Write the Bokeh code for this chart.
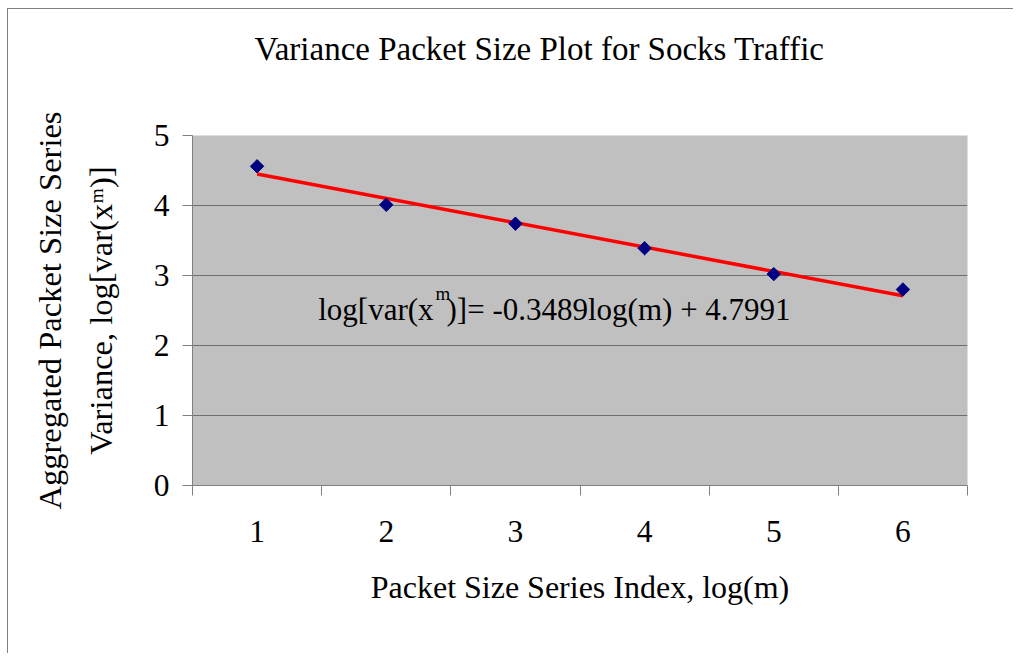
from math import pi
from bokeh.plotting import figure
from bokeh.models import Label, FixedTicker, Range1d, Title
from bokeh.embed import file_html
from bokeh.resources import INLINE

# ---- data ----
x_index = [1, 2, 3, 4, 5, 6]
log_var = [4.56, 4.01, 3.74, 3.39, 3.02, 2.80]
trend_x = [1, 6]
trend_y = [4.45, 2.71]
x_tick_labels = ["1", "2", "3", "4", "5", "6"]
x_boundaries = [0.5, 1.5, 2.5, 3.5, 4.5, 5.5, 6.5]
y_ticks = [0, 1, 2, 3, 4, 5]

title_text = "Variance Packet Size Plot for Socks Traffic"
x_label_text = "Packet Size Series Index, log(m)"
y_label_line1 = "Aggregated Packet Size Series"
y_label_line2 = "Variance, log[var(x\u1d50)]"
eq_part1 = "log[var(x"
eq_sup = "m"
eq_part2 = ")]= -0.3489log(m) + 4.7991"

FONT = "Liberation Serif"
AXIS_GRAY = "#808080"

p = figure(
    title=None,
    width=1013, height=653,
    output_backend="svg", toolbar_location=None,
    x_range=Range1d(0.5, 6.5), y_range=Range1d(0, 5),
    min_border_left=192, min_border_right=46,
    min_border_top=135, min_border_bottom=168,
    background_fill_color="#C0C0C0", border_fill_color=None,
    outline_line_color=None,
    styles={"background-color": "white",
            "box-shadow": "inset 7px 8px 0 0 white, inset 8px 9px 0 0 #808080"},
)

# title: an empty spacer next to the frame, then the real title further out
p.add_layout(Title(text=" ", standoff=56, text_font=FONT, text_font_size="10px"), "above")
p.add_layout(Title(text=title_text, align="left", offset=62, standoff=0,
                   text_font=FONT, text_font_size="33px", text_font_style="normal",
                   text_color="black"), "above")

# grid
p.xgrid.visible = False
p.ygrid.ticker = FixedTicker(ticks=y_ticks)
p.ygrid.grid_line_color = "#6e6e6e"
p.ygrid.grid_line_width = 1

# x axis (labels at category centres, ticks at category boundaries)
xa = p.xaxis[0]
xa.ticker = FixedTicker(ticks=x_index, minor_ticks=x_boundaries)
xa.major_label_overrides = {v: s for v, s in zip(x_index, x_tick_labels)}
xa.major_tick_in = 0
xa.major_tick_out = 0
xa.major_tick_line_color = None
xa.minor_tick_in = 0
xa.minor_tick_out = 10
xa.minor_tick_line_color = AXIS_GRAY
xa.axis_line_color = AXIS_GRAY
xa.major_label_standoff = 25
xa.axis_label = x_label_text
xa.axis_label_standoff = 24

# y axis
ya = p.yaxis[0]
ya.ticker = FixedTicker(ticks=y_ticks, minor_ticks=[])
ya.major_tick_in = 0
ya.major_tick_out = 10
ya.major_tick_line_color = AXIS_GRAY
ya.minor_tick_line_color = None
ya.axis_line_color = AXIS_GRAY
ya.major_label_standoff = 13

for ax in (xa, ya):
    ax.major_label_text_font = FONT
    ax.major_label_text_font_size = "31.5px"
    ax.major_label_text_color = "black"
    ax.axis_label_text_font = FONT
    ax.axis_label_text_font_size = "32px"
    ax.axis_label_text_font_style = "normal"
    ax.axis_label_text_color = "black"

# two-line y axis title (nearest line first)
p.add_layout(Title(text=y_label_line2, align="center", standoff=63,
                   text_font=FONT, text_font_size="32.5px",
                   text_font_style="normal", text_color="black"), "left")
p.add_layout(Title(text=y_label_line1, align="center", standoff=-37,
                   text_font=FONT, text_font_size="32.5px",
                   text_font_style="normal", text_color="black"), "left")

# trend line and data markers
p.line(trend_x, trend_y, line_color="#FF0000", line_width=3.5)
p.scatter(x_index, log_var, marker="square", angle=pi / 4, size=9.5,
          fill_color="#000080", line_color="#000080")

# trend-line equation (with superscript m)
EQ_SIZE = 31.0
eq_x0 = 125.7
eq_base = 175.9
part1_w = 3.721 * EQ_SIZE  # Times advance widths of "log[var(x"
p.add_layout(Label(x=eq_x0, y=eq_base, x_units="screen", y_units="screen",
                   text=eq_part1, text_align="left", text_baseline="alphabetic",
                   text_font=FONT, text_font_size=f"{EQ_SIZE}px", text_color="black"))
p.add_layout(Label(x=eq_x0 + part1_w + 2, y=eq_base + 16, x_units="screen", y_units="screen",
                   text=eq_sup, text_align="left", text_baseline="alphabetic",
                   text_font=FONT, text_font_size="19px", text_color="black"))
p.add_layout(Label(x=eq_x0 + part1_w + 13, y=eq_base, x_units="screen", y_units="screen",
                   text=eq_part2, text_align="left", text_baseline="alphabetic",
                   text_font=FONT, text_font_size=f"{EQ_SIZE}px", text_color="black"))

open("out.html", "w").write(file_html(p, INLINE))
